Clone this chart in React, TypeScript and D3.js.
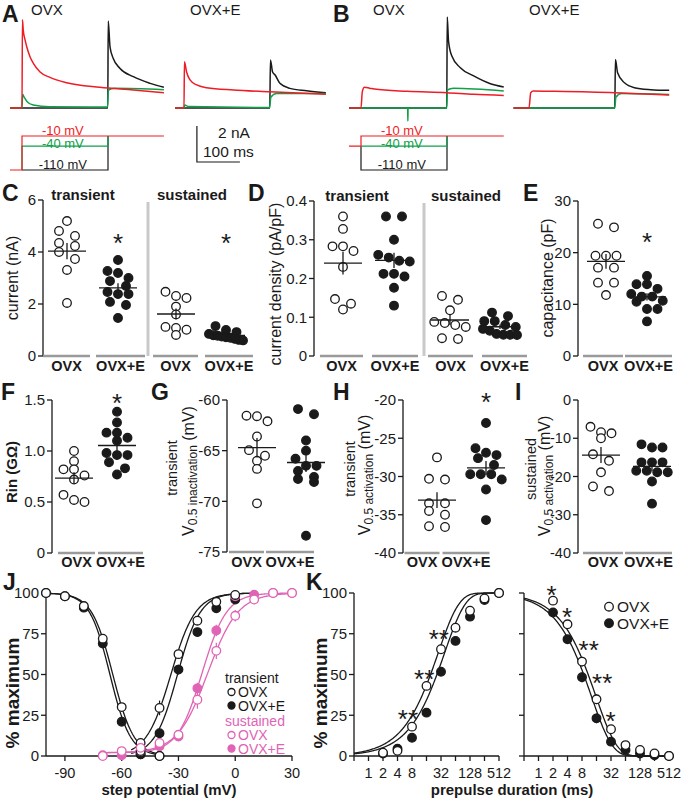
import React from "react";
import * as d3 from "d3";

const FONT = "'Liberation Sans', Arial, Helvetica, sans-serif";
const RED = "#ee1d25";
const GREEN = "#10a04a";
const PINK = "#e064b5";
const INK = "#1a1a1a";
const UNDER = "#9a9a9a";
const SEP = "#c9c9c9";

// ---------------- A / B current traces: [time ms from step onset, current nA] ----------------
const aOvxRed: [number, number][] = [[-28, 0], [0, 0], [1, 4.9], [3, 4.3], [7, 3.8], [11, 3.4], [18.6, 2.85], [26.4, 2.48], [42, 2.0], [65, 1.7], [104, 1.4], [181, 1.15], [259, 1.0], [330, 0.85]];
const aOvxGreen: [number, number][] = [[-28, 0], [0, 0], [1.5, 0.76], [5, 0.6], [12, 0.35], [26, 0.17], [65, 0.07], [199, 0.05], [201, 1.0], [215, 1.1], [330, 1.02]];
const aOvxBlack: [number, number][] = [[-28, 0], [199.5, 0], [200.5, 4.83], [204.7, 3.4], [212, 2.76], [228, 2.2], [259, 1.74], [298, 1.37], [330, 1.15]];
const aOvxeRed: [number, number][] = [[-21, 0], [0, 0], [1, 2.57], [6, 2.0], [14, 1.56], [29.5, 1.28], [53, 1.13], [115, 1.0], [200, 0.9], [330, 0.76]];
const aOvxeGreen: [number, number][] = [[-21, 0], [0, 0], [2, 0.17], [10, 0.08], [199, 0.03], [202, 0.6], [215, 0.8], [330, 0.8]];
const aOvxeBlack: [number, number][] = [[-21, 0], [199.5, 0], [201, 2.67], [206, 2.0], [212, 1.83], [223, 1.37], [246, 1.09], [285, 0.96], [330, 0.85]];
const bOvxRed: [number, number][] = [[-28, 0], [0, 0], [3, 0.9], [8, 1.15], [20, 1.1], [31, 1.05], [108, 0.93], [200, 0.85], [262, 0.76], [332, 0.7]];
const bOvxGreen: [number, number][] = [[-28, 0], [108.5, 0], [109, -0.72], [109.5, 0], [199.5, 0], [201, 1.0], [215, 1.1], [332, 0.95]];
const bOvxBlack: [number, number][] = [[-28, 0], [199.5, 0], [200.5, 5.06], [203.6, 3.7], [211, 2.9], [231, 2.24], [262, 1.78], [301, 1.35], [332, 1.17]];
const bOvxeRed: [number, number][] = [[-36, 0], [0, 0], [4, 0.85], [10, 0.95], [60, 0.93], [200, 0.85], [326, 0.72]];
const bOvxeGreen: [number, number][] = [[-36, 0], [199.5, 0], [202, 0.6], [215, 0.8], [326, 0.75]];
const bOvxeBlack: [number, number][] = [[-36, 0], [199.5, 0], [201, 2.7], [206, 1.96], [222, 1.4], [245, 1.13], [283, 1.02], [326, 0.98]];

// voltage protocols (mV): holding, prepulse (0-200 ms), test (after 200 ms)
const protoA = { hold: -110, red: -10, green: -40, black: -110, test: -10 };
const protoB = { hold: -40, red: -10, green: -40, black: -110, test: -10 };
const protoLabels = ["-10 mV", "-40 mV", "-110 mV"];
const protoLevels = [-10, -40, -110];

// ---------------- C-I scatter data ----------------
const groupNames = ["OVX", "OVX+E"];
const cTransOVX = [5.19, 4.81, 4.62, 4.35, 4.23, 4.0, 3.73, 3.31, 2.04];
const cTransOVXE = [3.69, 3.27, 3.19, 3.0, 2.88, 2.69, 2.46, 2.38, 2.38, 2.08, 1.96, 1.46];
const cSustOVX = [2.47, 2.31, 2.23, 1.9, 1.6, 1.12, 1.08, 1.01, 0.81];
const cSustOVXE = [1.15, 1.0, 0.92, 0.85, 0.8, 0.78, 0.75, 0.72, 0.7, 0.66, 0.62, 0.6];
const dTransOVX = [0.36, 0.328, 0.283, 0.283, 0.271, 0.23, 0.147, 0.135, 0.12];
const dTransOVXE = [0.36, 0.36, 0.3, 0.261, 0.254, 0.246, 0.244, 0.212, 0.212, 0.205, 0.176, 0.13];
const dSustOVX = [0.155, 0.145, 0.118, 0.088, 0.085, 0.08, 0.075, 0.046, 0.044];
const dSustOVXE = [0.112, 0.103, 0.09, 0.09, 0.08, 0.075, 0.07, 0.065, 0.057, 0.055, 0.055, 0.054];
const eOVX = [25.6, 24.9, 19.4, 19.4, 19.4, 17.1, 17.1, 14.2, 14.2, 11.8];
const eOVXE = [15.5, 13.9, 13.9, 13.0, 12.0, 11.5, 11.5, 10.7, 10.5, 9.1, 9.1, 6.7];
const fOVX = [1.0, 0.9, 0.82, 0.82, 0.76, 0.72, 0.57, 0.52, 0.5];
const fOVXE = [1.385, 1.28, 1.18, 1.18, 1.13, 1.1, 0.98, 0.96, 0.96, 0.89, 0.83, 0.77];
const gOVX = [-61.55, -61.6, -62.1, -63.6, -64.95, -65.5, -66.0, -66.8, -70.2];
const gOVXE = [-60.9, -61.4, -64.0, -65.0, -65.8, -66.5, -66.5, -67.0, -67.6, -67.8, -68.1, -73.4];
const hOVX = [-27.5, -30.3, -30.4, -33.5, -33.5, -34.5, -35.0, -36.5, -36.6];
const hOVXE = [-23.0, -26.3, -26.9, -27.2, -27.6, -28.5, -29.7, -29.7, -29.7, -30.4, -31.7, -35.7];
const iOVX = [-7.0, -8.4, -8.7, -10.0, -14.2, -15.9, -18.9, -22.6, -23.8];
const iOVXE = [-11.6, -12.4, -12.4, -16.3, -16.3, -16.3, -18.5, -18.5, -18.9, -18.9, -21.3, -27.1];

// ---------------- J data ----------------
const jInactV = [-100, -90, -80, -70, -60, -50, -40];
const jInactOVX = [100, 98, 92, 72, 30, 8, 0];
const jInactOVXE = [100, 98, 91, 69, 21, 1, 0];
const jInactSem = [0.5, 1, 1.5, 2, 2.5, 1.5, 0.5];
const jActV = [-50, -40, -30, -20, -10, 0];
const jActOVX = [3, 29.5, 62.5, 83, 94.6, 98.8];
const jActOVXE = [1, 14, 53, 76, 90.6, 96];
const jActOVXSem = [1, 4.5, 2, 2, 1.5, 1];
const jActOVXESem = [0.5, 2, 3, 2, 2, 1];
const jSusV = [-70, -60, -50, -40, -30, -20, -10, 0, 10, 20, 30];
const jSusOVX = [0, 3, 5, 8, 13, 34.5, 64.5, 86, 96, 100, 100];
const jSusOVXE = [0.5, 0.5, 3, 6, 12, 41.5, 77, 98, 99, 100, 100];
const jSusOVXSem = [0.5, 1, 1, 1.5, 2, 5.5, 5, 3.5, 1.5, 0.5, 0.5];
const jSusOVXESem = [0.5, 0.5, 1, 1.5, 1.5, 3.5, 3.5, 1, 0.5, 0.5, 0.5];
const fitInactOVX = { v05: -64.7, k: 5.6 };
const fitInactOVXE = { v05: -66.2, k: 5.4 };
const fitActOVX = { v05: -34, k: 6.5, base: 0 };
const fitActOVXE = { v05: -30.5, k: 6, base: 0 };
const fitSusOVX = { v05: -14.5, k: 8, base: 2 };
const fitSusOVXE = { v05: -17.5, k: 6.5, base: 2 };

// ---------------- K data ----------------
const kDur = [2, 4, 8, 16, 32, 64, 128, 256, 512];
const kLeftOVX = [2, 3.2, 18, 43, 65.5, 78.7, 89.1, 96.7, 100];
const kLeftOVXE = [1.5, 4.5, 11.2, 26.6, 51.7, 70.6, 85.5, 95.7, 100];
const kLeftSem = [0.8, 1, 1.5, 2, 2.5, 2, 1.5, 1, 0.5];
const kRightOVX = [95.3, 80.8, 57.9, 34.8, 16.4, 6.7, 3.7, 1.6, 0];
const kRightOVXE = [88, 71.6, 48.3, 23.1, 8.8, 3.7, 1.5, 0.5, 0];
const kRightSem = [2, 2, 3, 3, 2, 1.5, 1, 0.5, 0.3];
const tauLeftOVX = 28;
const tauLeftOVXE = 38;
const tauRightOVX = 15.5;
const tauRightOVXE = 12.5;
const kLeftStars = [{ t: 6.6, v: 26.6, s: "**" }, { t: 14.3, v: 51, s: "**" }, { t: 28.8, v: 75.6, s: "**" }];
const kRightStars = [{ t: 1.87, v: 102.9, s: "*" }, { t: 3.9, v: 89.6, s: "*" }, { t: 11, v: 69.3, s: "**" }, { t: 21, v: 48.6, s: "**" }, { t: 31.5, v: 25.8, s: "*" }];

// ---------------- helpers ----------------
const R = 4.3;
const STAR = 26;

function Star({ x, y, s = "*" }: { x: number; y: number; s?: string }) {
  return (
    <text x={x} y={y + STAR * 0.6} fontSize={STAR} textAnchor="middle" fill={INK}>{s}</text>
  );
}

function Dot({ x, y, filled, color = INK, r = R }: any) {
  return <circle cx={x} cy={y} r={r} fill={filled ? color : "#fff"} stroke={color} strokeWidth={1.3} />;
}

function swarm(values: number[], y: (v: number) => number, cx: number) {
  const sorted = [...values].sort((a, b) => b - a);
  const rows: number[][] = [];
  for (const v of sorted) {
    const row = rows[rows.length - 1];
    if (row && Math.abs(y(v) - y(row[0])) < 7.5) row.push(v);
    else rows.push([v]);
  }
  const pts: { x: number; y: number }[] = [];
  rows.forEach((row) => {
    const n = row.length;
    let sp = n === 2 ? 16 : 10.5;
    if (n > 1) sp = Math.min(sp, 34 / (n - 1));
    row.forEach((v, i) => pts.push({ x: cx + (i - (n - 1) / 2) * sp, y: y(v) }));
  });
  return pts;
}

function RotLabel({ x, y, size = 16, weight = "normal", children }: any) {
  return (
    <text x={x} y={y} fontSize={size} fontWeight={weight} textAnchor="middle" dy="0.35em" transform={`rotate(-90 ${x} ${y})`} fill={INK}>
      {children}
    </text>
  );
}

function VLabel({ x, y, word }: { x: number; y: number; word: string }) {
  return (
    <text x={x} y={y} fontSize={16} textAnchor="middle" dy="0.35em" transform={`rotate(-90 ${x} ${y})`} fill={INK}>
      <tspan>V</tspan>
      <tspan fontSize={12} dy={3}>{"0.5 " + word}</tspan>
      <tspan dy={-3}> (mV)</tspan>
    </text>
  );
}

type GroupCfg = { vals: number[]; filled: boolean; c: number; lc: number; hw: number; name: string };

function Scatter({ cfg }: { cfg: any }) {
  const y = d3.scaleLinear().domain(cfg.domain).range([cfg.bottom, cfg.top]);
  const groups: GroupCfg[] = cfg.groups;
  return (
    <g>
      <line x1={cfg.axisX} x2={cfg.axisX} y1={y(cfg.domain[0])} y2={y(cfg.domain[1])} stroke={INK} strokeWidth={1.3} />
      {cfg.ticks.map((t: number) => (
        <g key={t}>
          <line x1={cfg.axisX - 5} x2={cfg.axisX} y1={y(t)} y2={y(t)} stroke={INK} strokeWidth={1.3} />
          <text x={cfg.axisX - 7} y={y(t)} dy="0.36em" fontSize={cfg.tickSize || 15} textAnchor="end" fill={INK}>{cfg.fmt(t)}</text>
        </g>
      ))}
      {cfg.separator != null && (
        <line x1={cfg.separator} x2={cfg.separator} y1={cfg.top + 2} y2={cfg.bottom} stroke={SEP} strokeWidth={3} />
      )}
      {cfg.titles && cfg.titles.map((t: any) => (
        <text key={t.text} x={t.x} y={cfg.top} fontSize={15} fontWeight="bold" textAnchor="middle" fill={INK}>{t.text}</text>
      ))}
      {groups.map((g, gi) => {
        const pts = swarm(g.vals, y, g.c);
        const m = d3.mean(g.vals) as number;
        const sem = (d3.deviation(g.vals) as number) / Math.sqrt(g.vals.length);
        return (
          <g key={gi}>
            <line x1={g.lc - g.hw} x2={g.lc + g.hw} y1={cfg.bottom} y2={cfg.bottom} stroke={UNDER} strokeWidth={2.5} />
            <text x={g.lc} y={cfg.labelY} fontSize={14.5} fontWeight="bold" textAnchor="middle" fill={INK}>{g.name}</text>
            {pts.map((p, i) => (
              <Dot key={i} x={p.x} y={p.y} filled={g.filled} />
            ))}
            <line x1={g.c - 19} x2={g.c + 19} y1={y(m)} y2={y(m)} stroke={INK} strokeWidth={1.3} />
            <line x1={g.c} x2={g.c} y1={y(m - sem)} y2={y(m + sem)} stroke={INK} strokeWidth={1.3} />
          </g>
        );
      })}
      {cfg.stars.map((s: any, i: number) => (
        <Star key={i} x={groups[s.g].c} y={y(s.v)} />
      ))}
    </g>
  );
}

const fmtInt = (d: number) => String(d);
const fmt1 = (d: number) => (d === 0 ? "0" : d.toFixed(1));

const panelC = {
  axisX: 43, top: 200, bottom: 356, domain: [0, 6], ticks: [0, 2, 4, 6], fmt: fmtInt, labelY: 370.5,
  separator: 148, titles: [{ text: "transient", x: 83 }, { text: "sustained", x: 192 }],
  groups: [
    { vals: cTransOVX, filled: false, c: 67, lc: 66.5, hw: 23.5, name: groupNames[0] },
    { vals: cTransOVXE, filled: true, c: 118, lc: 120.5, hw: 24.5, name: groupNames[1] },
    { vals: cSustOVX, filled: false, c: 176, lc: 175.5, hw: 22.5, name: groupNames[0] },
    { vals: cSustOVXE, filled: true, c: 226, lc: 229, hw: 24, name: groupNames[1] },
  ],
  stars: [{ g: 1, v: 4.6 }, { g: 3, v: 4.6 }],
};
const panelD = {
  axisX: 314, top: 201, bottom: 356, domain: [0, 0.4], ticks: [0, 0.1, 0.2, 0.3, 0.4], fmt: fmt1, labelY: 370.5,
  separator: 424, titles: [{ text: "transient", x: 357 }, { text: "sustained", x: 466 }],
  groups: [
    { vals: dTransOVX, filled: false, c: 343, lc: 341.5, hw: 21.5, name: groupNames[0] },
    { vals: dTransOVXE, filled: true, c: 394, lc: 395, hw: 23, name: groupNames[1] },
    { vals: dSustOVX, filled: false, c: 450, lc: 450.5, hw: 22.5, name: groupNames[0] },
    { vals: dSustOVXE, filled: true, c: 500, lc: 504.5, hw: 22.5, name: groupNames[1] },
  ],
  stars: [],
};
const panelE = {
  axisX: 578, top: 201, bottom: 356, domain: [0, 30], ticks: [0, 10, 20, 30], fmt: fmtInt, labelY: 370.5,
  groups: [
    { vals: eOVX, filled: false, c: 606, lc: 603, hw: 20, name: groupNames[0] },
    { vals: eOVXE, filled: true, c: 647, lc: 648.5, hw: 23.5, name: groupNames[1] },
  ],
  stars: [{ g: 1, v: 23.3 }],
};
const panelF = {
  axisX: 52, top: 400, bottom: 553, domain: [0, 1.5], ticks: [0, 0.5, 1.0, 1.5], fmt: fmt1, labelY: 567,
  groups: [
    { vals: fOVX, filled: false, c: 74, lc: 76.5, hw: 18.5, name: groupNames[0] },
    { vals: fOVXE, filled: true, c: 117, lc: 120.5, hw: 22.5, name: groupNames[1] },
  ],
  stars: [{ g: 1, v: 1.54 }],
};
const panelG = {
  axisX: 227, top: 400, bottom: 552, domain: [-75, -60], ticks: [-75, -70, -65, -60], fmt: fmtInt, labelY: 567,
  groups: [
    { vals: gOVX, filled: false, c: 257, lc: 246.5, hw: 17.5, name: groupNames[0] },
    { vals: gOVXE, filled: true, c: 306, lc: 290, hw: 24, name: groupNames[1] },
  ],
  stars: [],
};
const panelH = {
  axisX: 403, top: 400, bottom: 553, domain: [-40, -20], ticks: [-40, -35, -30, -25, -20], fmt: fmtInt, labelY: 567,
  groups: [
    { vals: hOVX, filled: false, c: 437, lc: 422, hw: 17.5, name: groupNames[0] },
    { vals: hOVXE, filled: true, c: 486, lc: 466, hw: 23.5, name: groupNames[1] },
  ],
  stars: [{ g: 1, v: -19.35 }],
};
const panelI = {
  axisX: 578, top: 400, bottom: 553, domain: [-40, 0], ticks: [-40, -30, -20, -10, 0], fmt: fmtInt, labelY: 567, tickSize: 14.5,
  groups: [
    { vals: iOVX, filled: false, c: 601, lc: 603, hw: 20, name: groupNames[0] },
    { vals: iOVXE, filled: true, c: 652, lc: 648.5, hw: 23.5, name: groupNames[1] },
  ],
  stars: [],
};

// ---------------- traces ----------------
function TracePanel({ x0, data, proto }: any) {
  const xs = d3.scaleLinear().domain([0, 100]).range([x0, x0 + 43]);
  const ys = d3.scaleLinear().domain([0, 2]).range([108, 72]);
  const line = d3.line<[number, number]>().x((d) => xs(d[0])).y((d) => ys(d[1])).curve(d3.curveMonotoneX);
  const t0 = data.black[0][0];
  const t1 = data.black[data.black.length - 1][0];
  const vs = d3.scaleLinear().domain([-10, -110]).range([136, 170]);
  const step = d3.line<[number, number]>().x((d) => xs(d[0])).y((d) => vs(d[1])).curve(d3.curveStepAfter);
  return (
    <g fill="none">
      <g strokeWidth={1.5}>
        <path d={line(data.black) || ""} stroke={INK} />
        <path d={line(data.green) || ""} stroke={GREEN} />
        <path d={line(data.red) || ""} stroke={RED} />
      </g>
      {proto && (
        <g strokeWidth={1.2}>
          <path d={step([[0, proto.hold], [0, proto.black], [200, proto.test]]) || ""} stroke={INK} />
          <path d={step([[0, proto.hold], [0, proto.green], [200, proto.test]]) || ""} stroke={GREEN} />
          <path d={step([[t0, proto.hold], [0, proto.red], [t1, proto.test]]) || ""} stroke={RED} />
          {protoLabels.map((l, i) => (
            <text key={l} x={xs(95)} y={vs(protoLevels[i]) + (i === 1 ? 1.5 : -1)} fontSize={13} textAnchor="middle"
              fill={[RED, GREEN, INK][i]} stroke="none">{l}</text>
          ))}
        </g>
      )}
    </g>
  );
}

function ScaleBar() {
  const xs = d3.scaleLinear().domain([0, 100]).range([184, 227]);
  const ys = d3.scaleLinear().domain([0, 2]).range([108, 72]);
  return (
    <g>
      <path d={`M${xs(30)},${ys(-1)}V${ys(-3)}H${xs(130)}`} fill="none" stroke={INK} strokeWidth={1.2} />
      <text x={218} y={138} fontSize={15.5} fill={INK}>2 nA</text>
      <text x={203} y={156.5} fontSize={15.5} fill={INK}>100 ms</text>
    </g>
  );
}

// ---------------- J ----------------
function PanelJ() {
  const x = d3.scaleLinear().domain([-100, 30]).range([46, 292]);
  const y = d3.scaleLinear().domain([0, 100]).range([756, 593]);
  const inact = (p: any) => (v: number) => 100 / (1 + Math.exp((v - p.v05) / p.k));
  const act = (p: any) => (v: number) => p.base + (100 - p.base) / (1 + Math.exp((p.v05 - v) / p.k));
  const curve = (f: (v: number) => number, lo: number, hi: number) =>
    d3.line<number>().x((v) => x(v)).y((v) => y(f(v)))(d3.range(lo, hi + 0.001, 0.5)) || "";
  const series = (vs: number[], vals: number[], sem: number[], filled: boolean, color: string) => (
    <g>
      {vs.map((v, i) => (
        <line key={"e" + i} x1={x(v)} x2={x(v)} y1={y(vals[i] - sem[i])} y2={y(vals[i] + sem[i])} stroke={color} strokeWidth={1.2} />
      ))}
      {vs.map((v, i) => (
        <Dot key={i} x={x(v)} y={y(vals[i])} filled={filled} color={color} />
      ))}
    </g>
  );
  const legend = [
    { t: "transient", y: 678, color: INK, marker: null },
    { t: "OVX", y: 692, color: INK, marker: false },
    { t: "OVX+E", y: 705.5, color: INK, marker: true },
    { t: "sustained", y: 721, color: PINK, marker: null },
    { t: "OVX", y: 735, color: PINK, marker: false },
    { t: "OVX+E", y: 748.5, color: PINK, marker: true },
  ];
  return (
    <g>
      <line x1={x(-100)} x2={x(30)} y1={y(0)} y2={y(0)} stroke={INK} strokeWidth={1.3} />
      <line x1={x(-100)} x2={x(-100)} y1={y(0)} y2={y(100)} stroke={INK} strokeWidth={1.3} />
      {[0, 25, 50, 75, 100].map((t) => (
        <g key={t}>
          <line x1={x(-100) - 5} x2={x(-100)} y1={y(t)} y2={y(t)} stroke={INK} strokeWidth={1.3} />
          <text x={x(-100) - 7} y={y(t)} dy="0.36em" fontSize={15} textAnchor="end" fill={INK}>{t}</text>
        </g>
      ))}
      {[-90, -60, -30, 0, 30].map((t) => (
        <g key={t}>
          <line x1={x(t)} x2={x(t)} y1={y(0)} y2={y(0) + 5} stroke={INK} strokeWidth={1.3} />
          <text x={x(t)} y={777.5} fontSize={14.5} textAnchor="middle" fill={INK}>{t}</text>
        </g>
      ))}
      <text x={169} y={794.5} fontSize={15} fontWeight="bold" textAnchor="middle" fill={INK}>step potential (mV)</text>
      <RotLabel x={12} y={693} size={19} weight="bold">% maximum</RotLabel>
      <g fill="none" strokeWidth={1.3}>
        <path d={curve(inact(fitInactOVX), -100, -40)} stroke={INK} />
        <path d={curve(inact(fitInactOVXE), -100, -40)} stroke={INK} />
        <path d={curve(act(fitActOVX), -55, 10)} stroke={INK} />
        <path d={curve(act(fitActOVXE), -55, 10)} stroke={INK} />
        <path d={curve(act(fitSusOVX), -70, 30)} stroke={PINK} />
        <path d={curve(act(fitSusOVXE), -70, 30)} stroke={PINK} />
      </g>
      {series(jInactV, jInactOVXE, jInactSem, true, INK)}
      {series(jActV, jActOVXE, jActOVXESem, true, INK)}
      {series(jSusV, jSusOVXE, jSusOVXESem, true, PINK)}
      {series(jInactV, jInactOVX, jInactSem, false, INK)}
      {series(jActV, jActOVX, jActOVXSem, false, INK)}
      {series(jSusV, jSusOVX, jSusOVXSem, false, PINK)}
      {legend.map((l, i) =>
        l.marker === null ? (
          <text key={i} x={225} y={l.y} dy="0.36em" fontSize={14} fill={l.color}>{l.t}</text>
        ) : (
          <g key={i}>
            <Dot x={231.5} y={l.y} r={3.5} filled={l.marker} color={l.color} />
            <text x={238} y={l.y} dy="0.36em" fontSize={14} fill={l.color}>{l.t}</text>
          </g>
        )
      )}
    </g>
  );
}

// ---------------- K ----------------
function KPanel({ x0, x1, left }: { x0: number; x1: number; left: boolean }) {
  const x = d3.scaleLog().base(2).domain([0.5, 512]).range([x0, x1]);
  const y = d3.scaleLinear().domain([0, 100]).range([756, 593]);
  const ticks = d3.range(-1, 10).map((e) => Math.pow(2, e));
  const labeled = [1, 2, 4, 8, 32, 128, 512];
  const grid = d3.range(-1, 9.0001, 0.05).map((e) => Math.pow(2, e));
  const f = (tau: number) => (t: number) => (left ? 100 * (1 - Math.exp(-t / tau)) : 100 * Math.exp(-t / tau));
  const path = (g: (t: number) => number) => d3.line<number>().x((t) => x(t)).y((t) => y(g(t)))(grid) || "";
  const ovx = left ? kLeftOVX : kRightOVX;
  const ovxe = left ? kLeftOVXE : kRightOVXE;
  const sem = left ? kLeftSem : kRightSem;
  const stars = left ? kLeftStars : kRightStars;
  return (
    <g>
      <line x1={x0} x2={x1} y1={y(0)} y2={y(0)} stroke={INK} strokeWidth={1.3} />
      <line x1={x0} x2={x0} y1={y(0)} y2={y(100)} stroke={INK} strokeWidth={1.3} />
      {[0, 25, 50, 75, 100].map((t) => (
        <g key={t}>
          <line x1={x0 - 5} x2={x0} y1={y(t)} y2={y(t)} stroke={INK} strokeWidth={1.3} />
          {left && <text x={x0 - 7} y={y(t)} dy="0.36em" fontSize={15} textAnchor="end" fill={INK}>{t}</text>}
        </g>
      ))}
      {ticks.map((t) => (
        <g key={t}>
          <line x1={x(t)} x2={x(t)} y1={y(0)} y2={y(0) + 5} stroke={INK} strokeWidth={1.3} />
          {labeled.includes(t) && <text x={x(t)} y={777.5} fontSize={14.5} textAnchor="middle" fill={INK}>{t}</text>}
        </g>
      ))}
      <g fill="none" stroke={INK} strokeWidth={1.3}>
        <path d={path(f(left ? tauLeftOVX : tauRightOVX))} />
        <path d={path(f(left ? tauLeftOVXE : tauRightOVXE))} />
      </g>
      {kDur.map((t, i) => (
        <g key={"e" + i}>
          <line x1={x(t)} x2={x(t)} y1={y(ovx[i] - sem[i])} y2={y(ovx[i] + sem[i])} stroke={INK} strokeWidth={1.2} />
          <line x1={x(t)} x2={x(t)} y1={y(ovxe[i] - sem[i])} y2={y(ovxe[i] + sem[i])} stroke={INK} strokeWidth={1.2} />
        </g>
      ))}
      {kDur.map((t, i) => <Dot key={"f" + i} x={x(t)} y={y(ovxe[i])} filled={true} />)}
      {kDur.map((t, i) => <Dot key={"o" + i} x={x(t)} y={y(ovx[i])} filled={false} />)}
      {stars.map((s, i) => <Star key={i} x={x(s.t)} y={y(s.v)} s={s.s} />)}
      {!left && (
        <g>
          <Dot x={609} y={606.7} filled={false} />
          <text x={617} y={606.7} dy="0.36em" fontSize={15.5} fill={INK}>OVX</text>
          <Dot x={609} y={623.3} filled={true} />
          <text x={617} y={623.3} dy="0.36em" fontSize={15.5} fill={INK}>OVX+E</text>
        </g>
      )}
    </g>
  );
}

const letters = [
  { t: "A", x: 2, y: 22 }, { t: "B", x: 333, y: 22 },
  { t: "C", x: 2, y: 201 }, { t: "D", x: 248, y: 201 }, { t: "E", x: 523, y: 201 },
  { t: "F", x: 1, y: 400 }, { t: "G", x: 151, y: 400 }, { t: "H", x: 333, y: 400 }, { t: "I", x: 515, y: 400 },
  { t: "J", x: 3, y: 590 }, { t: "K", x: 306, y: 590 },
];

export default function App() {
  return (
    <svg width={682} height={800} viewBox="0 0 682 800" fontFamily={FONT}
      style={{ position: "absolute", left: 0, top: 0, background: "#fff" }}>
      <rect width={682} height={800} fill="#fff" />
      <text x={31} y={15} fontSize={15} fill={INK}>OVX</text>
      <text x={190} y={15} fontSize={15} fill={INK}>OVX+E</text>
      <text x={373} y={15} fontSize={15} fill={INK}>OVX</text>
      <text x={529} y={15} fontSize={15} fill={INK}>OVX+E</text>
      <TracePanel x0={22} data={{ red: aOvxRed, green: aOvxGreen, black: aOvxBlack }} proto={protoA} />
      <TracePanel x0={184} data={{ red: aOvxeRed, green: aOvxeGreen, black: aOvxeBlack }} />
      <TracePanel x0={361} data={{ red: bOvxRed, green: bOvxGreen, black: bOvxBlack }} proto={protoB} />
      <TracePanel x0={529} data={{ red: bOvxeRed, green: bOvxeGreen, black: bOvxeBlack }} />
      <ScaleBar />

      <Scatter cfg={panelC} />
      <Scatter cfg={panelD} />
      <Scatter cfg={panelE} />
      <Scatter cfg={panelF} />
      <Scatter cfg={panelG} />
      <Scatter cfg={panelH} />
      <Scatter cfg={panelI} />
      <RotLabel x={12} y={278}>current (nA)</RotLabel>
      <RotLabel x={275} y={284}>current density (pA/pF)</RotLabel>
      <RotLabel x={547} y={278}>capacitance (pF)</RotLabel>
      <RotLabel x={12} y={472} weight="bold" size={15}>Rin (GΩ)</RotLabel>
      <RotLabel x={172} y={468} size={14.5}>transient</RotLabel>
      <VLabel x={188} y={471} word="inactivation" />
      <RotLabel x={350} y={469} size={14.5}>transient</RotLabel>
      <VLabel x={364} y={475} word="activation" />
      <RotLabel x={531} y={469} size={14.5}>sustained</RotLabel>
      <VLabel x={544} y={476} word="activation" />

      <PanelJ />
      <KPanel x0={354} x1={499} left={true} />
      <KPanel x0={524} x1={669} left={false} />
      <text x={512} y={794.5} fontSize={15} fontWeight="bold" textAnchor="middle" fill={INK}>prepulse duration (ms)</text>
      <RotLabel x={320} y={693} size={19} weight="bold">% maximum</RotLabel>

      {letters.map((l) => (
        <text key={l.t} x={l.x} y={l.y} fontSize={23} fontWeight="bold" fill={INK}>{l.t}</text>
      ))}
    </svg>
  );
}
